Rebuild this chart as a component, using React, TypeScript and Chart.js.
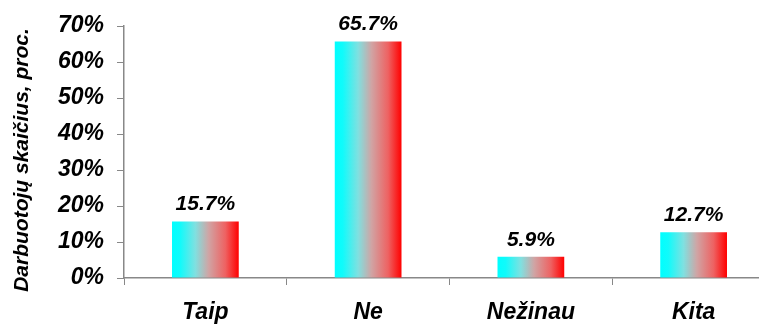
import React, { useEffect, useRef } from "react";
import { Chart, registerables } from "chart.js";

Chart.register(...registerables);

const categories = ["Taip", "Ne", "Nežinau", "Kita"];
const values = [15.7, 65.7, 5.9, 12.7];
const valueLabels = ["15.7%", "65.7%", "5.9%", "12.7%"];
const yTicks = [0, 10, 20, 30, 40, 50, 60, 70];
const yTitle = "Darbuotojų skaičius, proc.";

const FONT = "'Liberation Sans', Arial, sans-serif";
const BAR_PCT = 0.41;

export default function App() {
  const ref = useRef<HTMLCanvasElement | null>(null);

  useEffect(() => {
    const canvas = ref.current;
    if (!canvas) return;

    const labelPlugin = {
      id: "valueLabels",
      afterDatasetsDraw(chart: any) {
        const ctx = chart.ctx;
        const meta = chart.getDatasetMeta(0);
        ctx.save();
        ctx.font = `italic bold 21px ${FONT}`;
        ctx.fillStyle = "#000";
        ctx.textAlign = "center";
        ctx.textBaseline = "alphabetic";
        meta.data.forEach((bar: any, i: number) => {
          ctx.fillText(valueLabels[i], bar.x, bar.y - 11);
        });
        ctx.restore();
      },
      afterDraw(chart: any) {
        const ctx = chart.ctx;
        ctx.save();
        ctx.font = `italic bold 21px ${FONT}`;
        ctx.fillStyle = "#000";
        ctx.textAlign = "center";
        ctx.textBaseline = "alphabetic";
        ctx.translate(20, 152);
        ctx.rotate(-Math.PI / 2);
        ctx.fillText(yTitle, 0, 0);
        ctx.restore();
      },
    };

    const chart = new Chart(canvas, {
      type: "bar",
      data: {
        labels: categories,
        datasets: [
          {
            data: values,
            backgroundColor: (c: any) => {
              const ch = c.chart;
              const xs = ch.scales && ch.scales.x;
              if (!ch.chartArea || !xs || c.dataIndex === undefined) return "#00ffff";
              const cx = xs.getPixelForValue(c.dataIndex);
              const w = (xs.width / categories.length) * BAR_PCT;
              const x0 = cx - w / 2;
              if (!isFinite(cx) || !isFinite(w) || w <= 0) return "#00ffff";
              const g = ch.ctx.createLinearGradient(x0, 0, x0 + w, 0);
              g.addColorStop(0, "#00ffff");
              g.addColorStop(0.12, "#10fbfb");
              g.addColorStop(0.35, "#80e0e0");
              g.addColorStop(0.55, "#d0a4a4");
              g.addColorStop(0.8, "#ee6262");
              g.addColorStop(1, "#ff0000");
              return g;
            },
            borderWidth: 0,
            barPercentage: BAR_PCT,
            categoryPercentage: 1,
          },
        ],
      },
      options: {
        responsive: false,
        animation: false,
        layout: { padding: { top: 0, right: 0, bottom: 0, left: 4 } },
        plugins: {
          legend: { display: false },
          tooltip: { enabled: false },
        },
        scales: {
          x: {
            grid: {
              drawOnChartArea: false,
              drawTicks: true,
              tickLength: 7,
              color: "#888",
              offset: true,
            },
            border: { color: "#888", width: 1.5 },
            ticks: {
              color: "#000",
              font: { family: FONT, size: 23, style: "italic", weight: "bold" },
              padding: 14,
            },
            afterFit: (s: any) => {
              s.height = 46;
            },
          },
          y: {
            min: 0,
            max: 70,
            afterBuildTicks: (s: any) => {
              s.ticks = yTicks.map((v) => ({ value: v }));
            },
            grid: {
              drawOnChartArea: false,
              drawTicks: true,
              tickLength: 7,
              color: "#888",
            },
            border: { color: "#888", width: 1.5 },
            ticks: {
              color: "#000",
              font: { family: FONT, size: 23, style: "italic", weight: "bold" },
              padding: 13,
              callback: (v: any) => v + "%",
            },
            title: { display: false },
            afterFit: (s: any) => {
              s.width = 112;
              s.paddingTop = 18;
              s.paddingBottom = 10;
            },
          },
        },
      },
      plugins: [labelPlugin],
    });

    return () => chart.destroy();
  }, []);

  return (
    <div style={{ width: 759, height: 316, overflow: "hidden" }}>
      <canvas ref={ref} width={767} height={316} style={{ width: 767, height: 316, display: "block" }} />
    </div>
  );
}
